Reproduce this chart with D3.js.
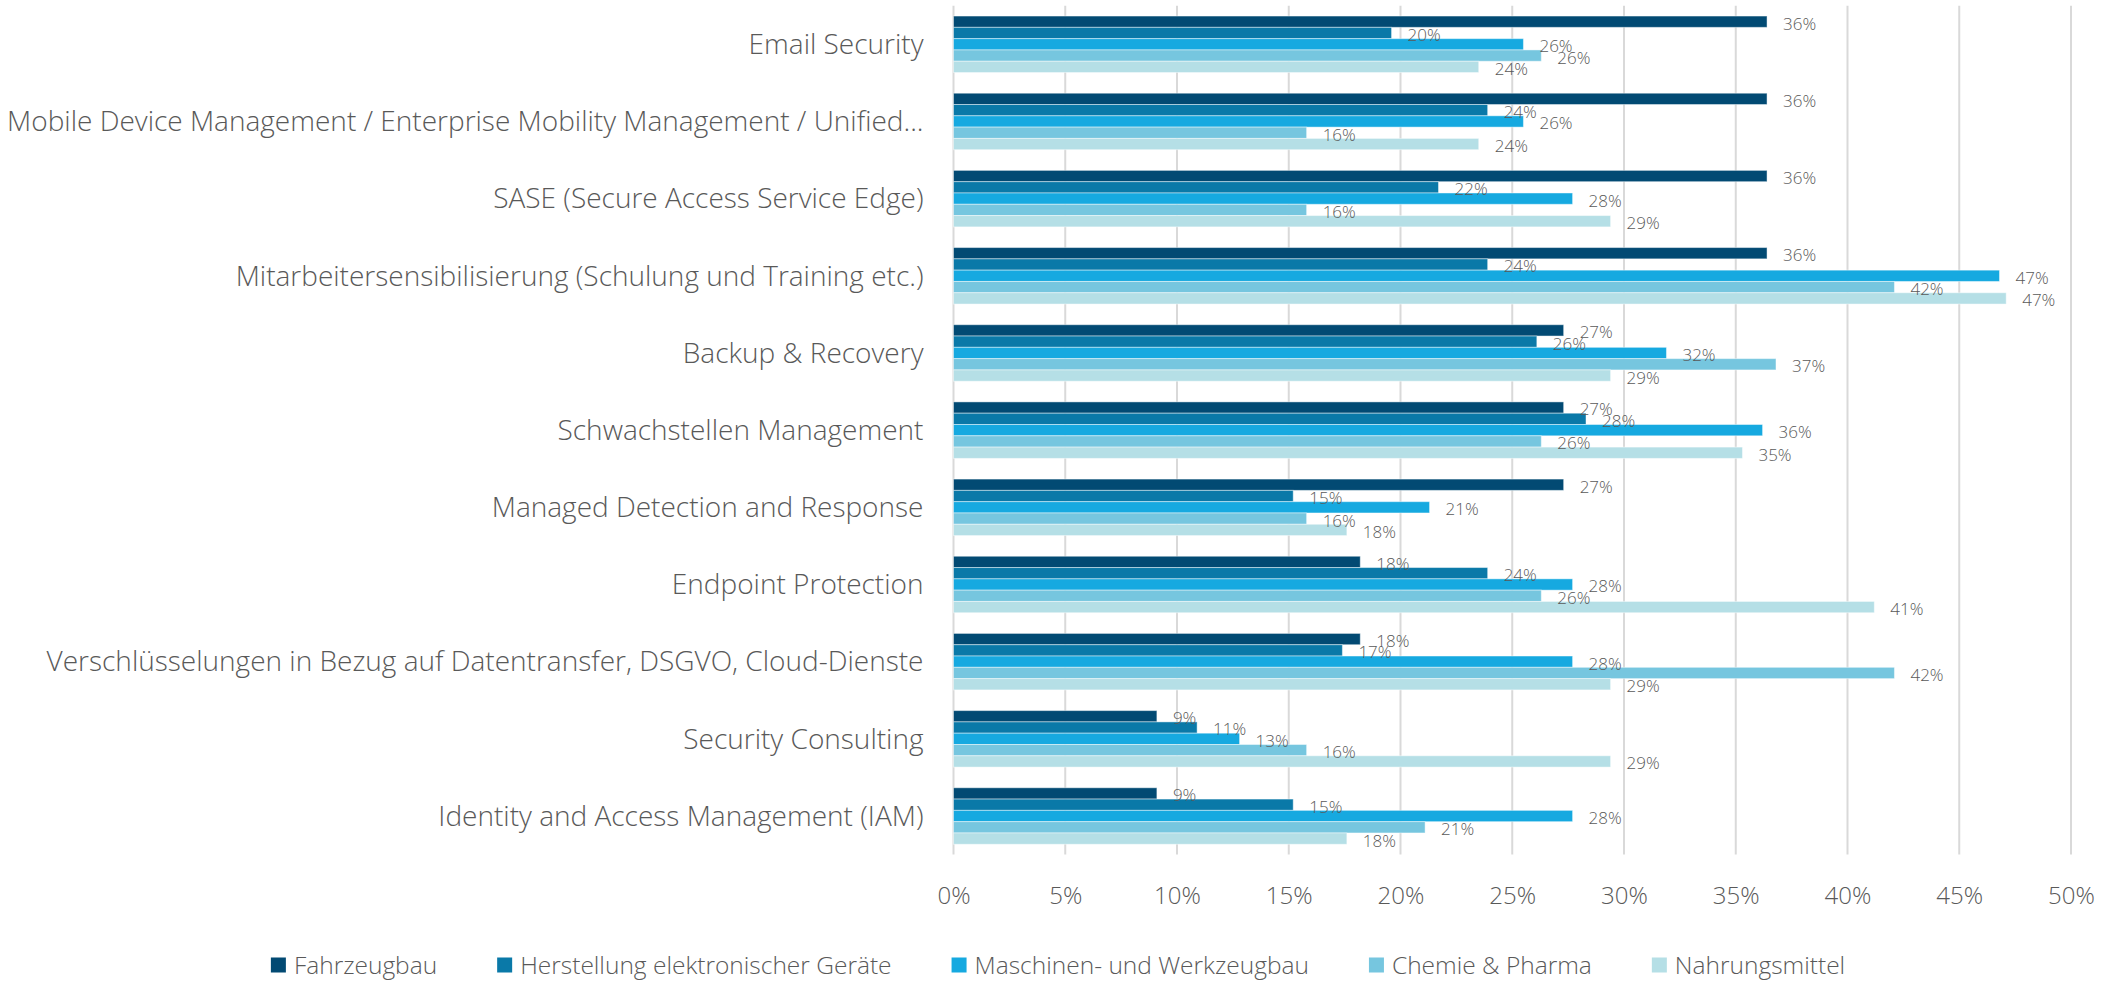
<!DOCTYPE html>
<html>
<head>
<meta charset="utf-8">
<script src="https://cdn.jsdelivr.net/npm/d3@7"></script>
<style>
  body { margin: 0; background: #fff; }
  text { font-family: "Open Sans", "Noto Sans", sans-serif; font-weight: 300; fill: #595959; }
</style>
</head>
<body>
<div id="chart"></div>
<script>
// Categories top to bottom
const categories = [
    "Email Security",
    "Mobile Device Management / Enterprise Mobility Management / Unified...",
    "SASE (Secure Access Service Edge)",
    "Mitarbeitersensibilisierung (Schulung und Training etc.)",
    "Backup & Recovery",
    "Schwachstellen Management",
    "Managed Detection and Response",
    "Endpoint Protection",
    "Verschlüsselungen in Bezug auf Datentransfer, DSGVO, Cloud-Dienste",
    "Security Consulting",
    "Identity and Access Management (IAM)"
];

const seriesNames = ["Fahrzeugbau", "Herstellung elektronischer Geräte", "Maschinen- und Werkzeugbau", "Chemie & Pharma", "Nahrungsmittel"];
const seriesColors = ["#024a73", "#0a79a8", "#16a9e0", "#76c6df", "#b5dfe6"];

// values in percent, same order as categories
const fahrzeugbau  = [36.4, 36.4, 36.4, 36.4, 27.3, 27.3, 27.3, 18.2, 18.2, 9.1, 9.1];
const herstellung  = [19.6, 23.9, 21.7, 23.9, 26.1, 28.3, 15.2, 23.9, 17.4, 10.9, 15.2];
const maschinen    = [25.5, 25.5, 27.7, 46.8, 31.9, 36.2, 21.3, 27.7, 27.7, 12.8, 27.7];
const chemie       = [26.3, 15.8, 15.8, 42.1, 36.8, 26.3, 15.8, 26.3, 42.1, 15.8, 21.1];
const nahrung      = [23.5, 23.5, 29.4, 47.1, 29.4, 35.3, 17.6, 41.2, 29.4, 29.4, 17.6];

const xTicks = [0, 5, 10, 15, 20, 25, 30, 35, 40, 45, 50];

const seriesValues = [fahrzeugbau, herstellung, maschinen, chemie, nahrung];

const W = 2116, H = 981;
const margin = { top: 5.7, right: 45, bottom: 126.4, left: 953.5 },
      width = W - margin.left - margin.right,
      height = H - margin.top - margin.bottom;

const root = d3.select("#chart")
    .append("svg")
    .attr("width", W)
    .attr("height", H);

const svg = root.append("g")
    .attr("transform", `translate(${margin.left},${margin.top})`);

// Scales
const x = d3.scaleLinear().domain([0, 50]).range([0, width]);
const y = d3.scaleBand()
    .domain(categories)
    .range([0, height])
    .paddingInner(0.268)
    .paddingOuter(0.134);
const ySub = d3.scaleBand()
    .domain(seriesNames)
    .range([0, y.bandwidth()]);

// Gridlines
svg.append("g")
    .selectAll("line")
    .data(xTicks)
    .join("line")
    .attr("x1", d => x(d))
    .attr("x2", d => x(d))
    .attr("y1", 0)
    .attr("y2", height)
    .attr("stroke", "#d9d9d9")
    .attr("stroke-width", 2);

// X axis labels
const xAxis = svg.append("g")
    .attr("transform", `translate(0,${height})`)
    .call(d3.axisBottom(x).tickValues(xTicks).tickFormat(d => d + "%").tickSize(0).tickPadding(32));
xAxis.select(".domain").remove();
xAxis.selectAll("text")
    .style("font-family", "'Open Sans', 'Noto Sans', sans-serif")
    .style("font-weight", 300)
    .style("font-size", "24px")
    .attr("fill", "#595959");

// Category labels
svg.append("g")
    .selectAll("text")
    .data(categories)
    .join("text")
    .attr("x", -30)
    .attr("y", d => y(d) + y.bandwidth() / 2)
    .attr("dy", "0.35em")
    .attr("text-anchor", "end")
    .style("font-size", "28px")
    .text(d => d);

// Bars
const flat = [];
categories.forEach((c, i) => {
    seriesNames.forEach((s, j) => {
        flat.push({ category: c, series: s, value: seriesValues[j][i], color: seriesColors[j] });
    });
});

svg.append("g")
    .selectAll("rect")
    .data(flat)
    .join("rect")
    .attr("x", 0)
    .attr("y", d => y(d.category) + ySub(d.series))
    .attr("width", d => x(d.value))
    .attr("height", ySub.bandwidth())
    .attr("fill", d => d.color)
    .attr("stroke", "#ffffff")
    .attr("stroke-opacity", 0.45)
    .attr("stroke-width", 1);

// Value labels
svg.append("g")
    .selectAll("text")
    .data(flat)
    .join("text")
    .attr("x", d => x(d.value) + 16)
    .attr("y", d => y(d.category) + ySub(d.series) + ySub.bandwidth() / 2 + 2)
    .attr("dy", "0.35em")
    .style("font-size", "17px")
    .text(d => Math.round(d.value) + "%");

// Legend
const legend = root.append("g");
const items = legend.selectAll("g")
    .data(seriesNames)
    .join("g");
items.append("rect")
    .attr("width", 15)
    .attr("height", 15)
    .attr("y", -7.5)
    .attr("fill", (d, i) => seriesColors[i]);
items.append("text")
    .attr("x", 23)
    .attr("dy", "0.35em")
    .style("font-size", "24.5px")
    .text(d => d);

let offs = 0;
items.each(function () {
    const g = d3.select(this);
    const w = 23 + g.select("text").node().getComputedTextLength();
    g.attr("transform", `translate(${offs},0)`);
    offs += w + 60;
});
const totalW = offs - 60;
legend.attr("transform", `translate(${(W - totalW) / 2},965)`);
</script>
</body>
</html>
